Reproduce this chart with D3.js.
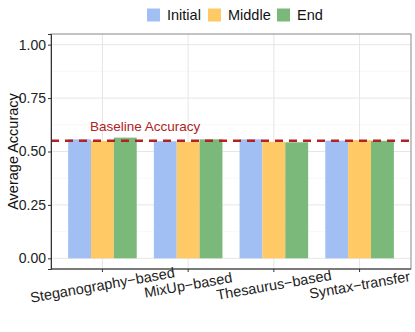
<!DOCTYPE html>
<html>
<head>
<meta charset="utf-8">
<script src="https://cdn.jsdelivr.net/npm/d3@7"></script>
<style>
  body { margin: 0; background: #fff; }
  text { font-family: "Liberation Sans", Arial, sans-serif; }
</style>
</head>
<body>
<script>
// data
const categories = ['Steganography\u2212based', 'MixUp\u2212based', 'Thesaurus\u2212based', 'Syntax\u2212transfer'];
const stages = ['Initial', 'Middle', 'End'];
const initialVals = [0.557, 0.548, 0.557, 0.551];
const middleVals = [0.550, 0.545, 0.545, 0.553];
const endVals = [0.565, 0.557, 0.543, 0.550];
const baseline = 0.55;
const yTicks = [0, 0.25, 0.5, 0.75, 1.0];
const yMinor = [0.125, 0.375, 0.625, 0.875];

const colors = { Initial: '#a2bff4', Middle: '#ffc966', End: '#7ab97a' };

const W = 415, H = 332;
const margin = { top: 34, right: 4, bottom: 63, left: 51 };
const width = W - margin.left - margin.right;
const height = H - margin.top - margin.bottom;

const svg = d3.select('body').append('svg')
    .attr('width', W)
    .attr('height', H);

const chart = svg.append('g')
    .attr('transform', `translate(${margin.left},${margin.top})`);

// discrete x, with 0.6 of a step on each side like ggplot
const xScale = d3.scaleBand()
    .domain(categories)
    .range([0, width])
    .paddingInner(0)
    .paddingOuter(0.1);
const unit = xScale.step();
const xCenter = c => xScale(c) + xScale.bandwidth() / 2;

const yScale = d3.scaleLinear()
    .domain([-0.05, 1.05])
    .range([height, 0]);

const xSub = d3.scaleBand()
    .domain(stages)
    .range([-unit * 0.4, unit * 0.4]);

// grid
chart.selectAll('.minor').data(yMinor).enter().append('line')
    .attr('x1', 0).attr('x2', width)
    .attr('y1', d => yScale(d)).attr('y2', d => yScale(d))
    .attr('stroke', '#f3f3f3').attr('stroke-width', 0.6);
chart.selectAll('.major').data(yTicks).enter().append('line')
    .attr('x1', 0).attr('x2', width)
    .attr('y1', d => yScale(d)).attr('y2', d => yScale(d))
    .attr('stroke', '#e6e6e6').attr('stroke-width', 1);
chart.selectAll('.vgrid').data(categories).enter().append('line')
    .attr('x1', d => xCenter(d)).attr('x2', d => xCenter(d))
    .attr('y1', 0).attr('y2', height)
    .attr('stroke', '#e6e6e6').attr('stroke-width', 1);

// bars
const seriesVals = { Initial: initialVals, Middle: middleVals, End: endVals };
stages.forEach(s => {
    chart.selectAll('.bar-' + s)
        .data(categories)
        .enter().append('rect')
        .attr('x', d => xCenter(d) + xSub(s))
        .attr('width', xSub.bandwidth())
        .attr('y', (d, i) => yScale(seriesVals[s][i]))
        .attr('height', (d, i) => yScale(0) - yScale(seriesVals[s][i]))
        .attr('fill', colors[s]);
});

// baseline
chart.append('line')
    .attr('x1', 0).attr('x2', width)
    .attr('y1', yScale(baseline)).attr('y2', yScale(baseline))
    .attr('stroke', '#b22222').attr('stroke-width', 2.4)
    .attr('stroke-dasharray', '8,6');
chart.append('text')
    .attr('x', 39).attr('y', yScale(baseline) - 10)
    .attr('font-size', 13.5).attr('fill', '#b22222')
    .text('Baseline Accuracy');

// panel border
chart.append('rect')
    .attr('width', width).attr('height', height)
    .attr('fill', 'none').attr('stroke', '#888').attr('stroke-width', 1);

// axes
const yAxis = chart.append('g')
    .call(d3.axisLeft(yScale).tickValues(yTicks).tickFormat(d3.format('.2f')).tickSize(3).tickPadding(2));
yAxis.select('.domain').attr('stroke', '#333');
yAxis.selectAll('.tick line').attr('stroke', '#333');
yAxis.selectAll('text').attr('font-size', 14).attr('fill', '#222')
    .style('font-family', '"Liberation Sans", Arial, sans-serif');

const xAxisG = chart.append('g').attr('transform', `translate(0,${height})`);
xAxisG.append('line').attr('x1', 0).attr('x2', width).attr('stroke', '#333');
xAxisG.selectAll('.tk').data(categories).enter().append('line')
    .attr('x1', d => xCenter(d)).attr('x2', d => xCenter(d))
    .attr('y1', 0).attr('y2', 3).attr('stroke', '#333');
xAxisG.selectAll('.lbl').data(categories).enter().append('text')
    .attr('transform', d => `translate(${xCenter(d)},${16}) rotate(-10)`)
    .attr('text-anchor', 'middle')
    .attr('dominant-baseline', 'central')
    .attr('font-size', 14.5).attr('fill', '#222')
    .text(d => d);

// y title
svg.append('text')
    .attr('transform', `translate(13,${margin.top + yScale(0.5)}) rotate(-90)`)
    .attr('text-anchor', 'middle')
    .attr('dominant-baseline', 'central')
    .attr('font-size', 14.5).attr('fill', '#111')
    .text('Average Accuracy');

// legend
const legendX = [147, 208, 277];
const legend = svg.append('g');
stages.forEach((s, i) => {
    legend.append('rect')
        .attr('x', legendX[i]).attr('y', 8.5)
        .attr('width', 13).attr('height', 13)
        .attr('fill', colors[s]);
    legend.append('text')
        .attr('x', legendX[i] + 20).attr('y', 15)
        .attr('dominant-baseline', 'central')
        .attr('font-size', 14.5).attr('fill', '#111')
        .text(s);
});
</script>
</body>
</html>
